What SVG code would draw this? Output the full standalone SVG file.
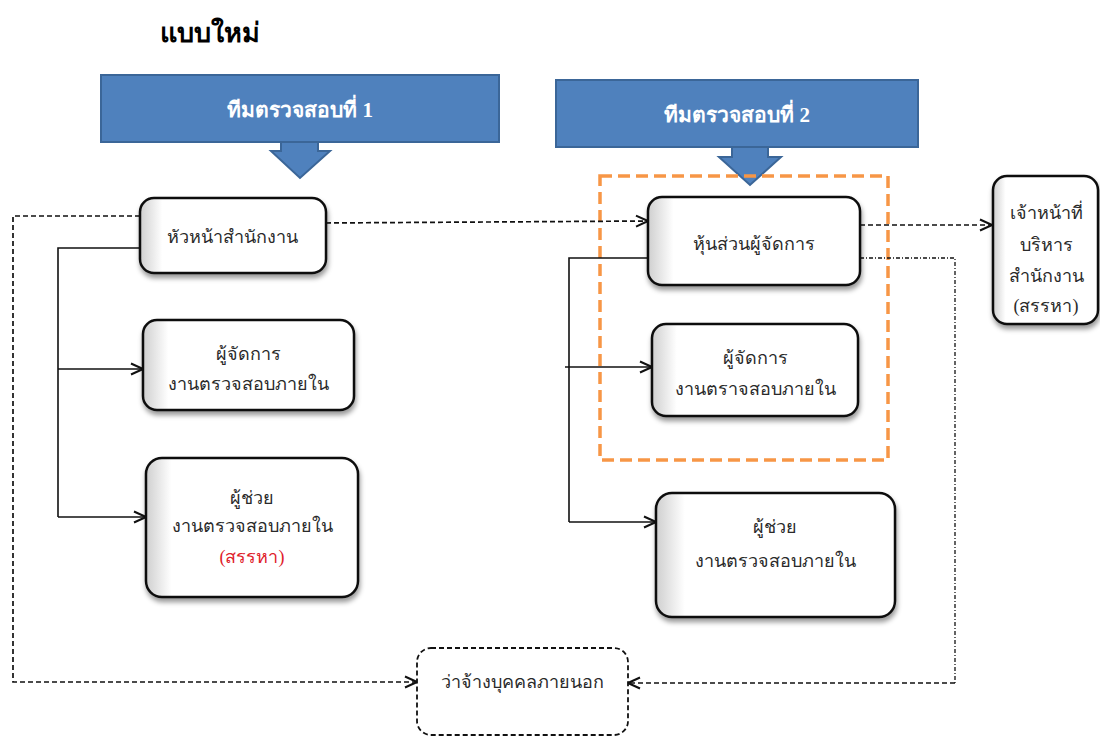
<svg xmlns="http://www.w3.org/2000/svg" width="1100" height="737" viewBox="0 0 1100 737">
  <style>
    .title { font-family: "Liberation Serif", "DejaVu Serif", serif; font-size: 27px; font-weight: bold; fill: #000; }
    .banner { fill: #4F81BD; stroke: #3B6698; stroke-width: 2; }
    .btxt { font-family: "Liberation Serif", "DejaVu Serif", serif; font-size: 21px; font-weight: bold; fill: #fff; text-anchor: middle; }
    .node { fill: url(#nodeFill); stroke: #111; stroke-width: 2.5; filter: url(#shadow); }
    .ntxt { font-family: "Liberation Serif", "DejaVu Serif", serif; font-size: 18px; fill: #2a2a2a; text-anchor: middle; }
    .red { fill: #E0202A; }
    .solid { fill: none; stroke: #111; stroke-width: 1.6; }
    .dash { fill: none; stroke: #111; stroke-width: 1.7; stroke-dasharray: 5 3; }
    .dashdot { fill: none; stroke: #111; stroke-width: 1.3; stroke-dasharray: 4 2 1 2; }
    .group2 { fill: none; stroke: #F79646; stroke-width: 3.5; stroke-dasharray: 12 6; }
  </style>
  <defs>
    <linearGradient id="nodeFill" x1="0" y1="0" x2="1" y2="0">
      <stop offset="0" stop-color="#cfcfcf"/>
      <stop offset="0.12" stop-color="#ffffff"/>
      <stop offset="1" stop-color="#ffffff"/>
    </linearGradient>
    <filter id="shadow" x="-10%" y="-10%" width="125%" height="130%">
      <feDropShadow dx="1" dy="4" stdDeviation="2.5" flood-color="#000" flood-opacity="0.4"/>
    </filter>
    <marker id="open" viewBox="0 0 14 14" refX="13" refY="7" markerWidth="14" markerHeight="14" markerUnits="userSpaceOnUse" orient="auto">
      <path d="M1,1.5 L13,7 L1,12.5" fill="none" stroke="#111" stroke-width="2"/>
    </marker>
  </defs>

  <text class="title" x="160" y="42">แบบใหม่</text>

  <!-- team banners with down arrows -->
  <g id="team1">
    <rect class="banner" x="101" y="75" width="398" height="67"/>
    <path class="banner" d="M281,142 L318,142 L318,151 L330,151 L300,178 L271,151 L281,151 Z"/>
    <text class="btxt" x="300" y="117">ทีมตรวจสอบที่ 1</text>
  </g>
  <g id="team2">
    <rect class="banner" x="556" y="80" width="362" height="67"/>
    <path class="banner" d="M732,147 L768,147 L768,157 L781,157 L750,185 L719,157 L732,157 Z"/>
    <text class="btxt" x="737" y="122">ทีมตรวจสอบที่ 2</text>
  </g>

  <!-- dashed grouping frame for team 2 -->
  <rect class="group2" x="600" y="176" width="288" height="284"/>

  <!-- connectors -->
  <g id="connectors">
    <path class="solid" d="M140,248 L58,248 L58,517"/>
    <path class="solid" d="M58,369 L143,369" marker-end="url(#open)"/>
    <path class="solid" d="M58,517 L146,517" marker-end="url(#open)"/>
    <path class="solid" d="M648,258 L569,258 L569,522"/>
    <path class="solid" d="M565,367 L652,367" marker-end="url(#open)"/>
    <path class="solid" d="M569,522 L656,522" marker-end="url(#open)"/>
    <path class="dash" d="M326,223 L648,221" marker-end="url(#open)"/>
    <path class="dash" d="M860,225 L992,225" marker-end="url(#open)"/>
    <path class="dash" d="M140,216 L13,216 L13,682 L417,682" marker-end="url(#open)"/>
    <path class="dashdot" d="M860,258 L955,258 L955,683"/>
    <path class="dash" d="M955,683 L628,683" marker-end="url(#open)"/>
  </g>

  <!-- nodes -->
  <g id="n-head">
    <rect class="node" x="140" y="198" width="186" height="75" rx="14"/>
    <text class="ntxt" x="232" y="243">หัวหน้าสำนักงาน</text>
  </g>
  <g id="n-mgr1">
    <rect class="node" x="143" y="320" width="211" height="90" rx="14"/>
    <text class="ntxt" x="248" y="360">ผู้จัดการ</text>
    <text class="ntxt" x="248" y="390">งานตรวจสอบภายใน</text>
  </g>
  <g id="n-asst1">
    <rect class="node" x="146" y="458" width="212" height="139" rx="16"/>
    <text class="ntxt" x="252" y="504">ผู้ช่วย</text>
    <text class="ntxt" x="252" y="532">งานตรวจสอบภายใน</text>
    <text class="ntxt red" x="252" y="563">(สรรหา)</text>
  </g>
  <g id="n-partner">
    <rect class="node" x="648" y="197" width="212" height="88" rx="14"/>
    <text class="ntxt" x="754" y="250">หุ้นส่วนผู้จัดการ</text>
  </g>
  <g id="n-mgr2">
    <rect class="node" x="652" y="324" width="206" height="92" rx="14"/>
    <text class="ntxt" x="755" y="364">ผู้จัดการ</text>
    <text class="ntxt" x="755" y="395">งานตราจสอบภายใน</text>
  </g>
  <g id="n-asst2">
    <rect class="node" x="656" y="493" width="239" height="124" rx="16"/>
    <text class="ntxt" x="775" y="533">ผู้ช่วย</text>
    <text class="ntxt" x="775" y="567">งานตรวจสอบภายใน</text>
  </g>
  <g id="n-admin">
    <rect class="node" x="993" y="176" width="105" height="148" rx="14"/>
    <text class="ntxt" x="1046" y="219">เจ้าหน้าที่</text>
    <text class="ntxt" x="1046" y="251">บริหาร</text>
    <text class="ntxt" x="1046" y="282">สำนักงาน</text>
    <text class="ntxt" x="1046" y="312">(สรรหา)</text>
  </g>
  <g id="n-outsource">
    <rect x="417" y="648" width="211" height="87" rx="14" fill="#fff" stroke="#111" stroke-width="1.8" stroke-dasharray="5 3"/>
    <text class="ntxt" x="522" y="688">ว่าจ้างบุคคลภายนอก</text>
  </g>
</svg>
